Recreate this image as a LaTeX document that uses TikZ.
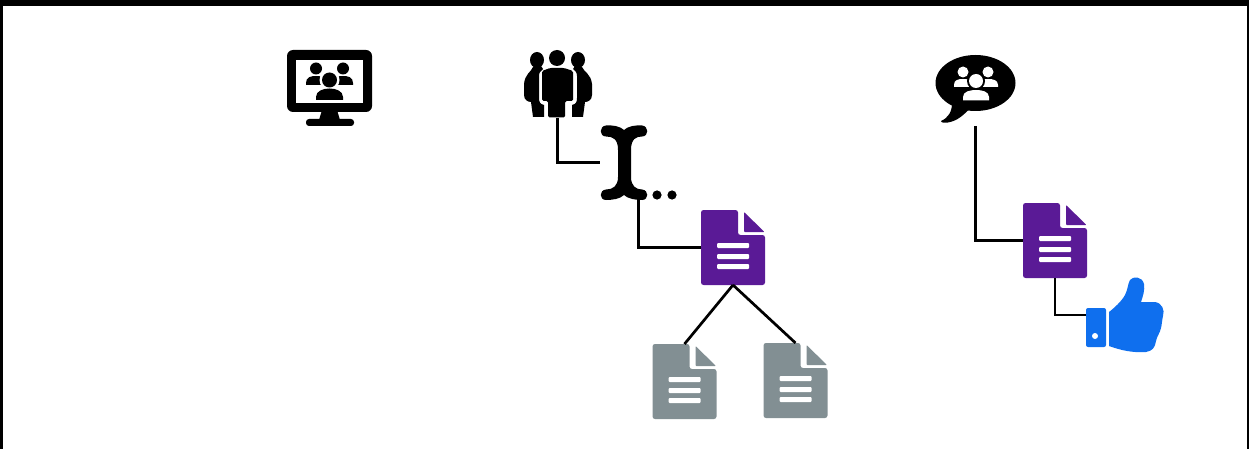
\documentclass[tikz,border=0pt]{standalone}
\definecolor{docpurple}{HTML}{5A1A96}
\definecolor{docgrey}{HTML}{828F93}
\definecolor{thumbblue}{HTML}{0F6FEE}
\tikzset{
  link/.style={draw=black,line width=2.7pt},
  frameline/.style={draw=black,line width=6pt},
}
% top-left corner given by #1,#2; colour #3; node name #4
\newcommand{\docicon}[4]{%
  \begin{scope}[shift={(#1,#2)}]
    \fill[#3,rounded corners=2.5pt] (0,0) -- (37,0) -- (37,25) -- (64,25) -- (64,75) -- (0,75) -- cycle;
    \fill[#3,rounded corners=0.8pt] (43,2) -- (63.5,22) -- (43,22) -- cycle;
    \fill[white,rounded corners=1pt] (16,33) rectangle (48,38);
    \fill[white,rounded corners=1pt] (16,44) rectangle (48,49);
    \fill[white,rounded corners=1pt] (16,54) rectangle (48,59);
    \node[inner sep=0pt,outer sep=0pt,minimum width=64pt,minimum height=75pt] (#4) at (32,37.5) {};
  \end{scope}}
\begin{document}
\begin{tikzpicture}[x=1pt,y=-1pt]
\useasboundingbox (0,0) rectangle (1249,449);
\begin{scope}
\clip (0,0) rectangle (1249,449);
\draw[frameline] (0,3) rectangle (1250,470);
\end{scope}
% monitor
\fill[black,rounded corners=6pt] (287,50) rectangle (372,112);
\fill[white] (296,60) rectangle (363,103);
\fill[black] (322,110) -- (337,110) -- (340,120) -- (319,120) -- cycle;
\fill[black,rounded corners=3pt] (306,119) rectangle (354,126);
\fill (316,68.5) circle (6);
\fill (343,68.5) circle (6);
\fill (306,85) -- (306,83) .. controls (306,77) and (311,76) .. (316,76) .. controls (321,76) and (326,77) .. (326,83) -- (326,85) -- cycle;
\fill (333,85) -- (333,83) .. controls (333,77) and (338,76) .. (343,76) .. controls (348,76) and (353,77) .. (353,83) -- (353,85) -- cycle;
\fill[white] (329.5,80) circle (10);
\fill[white] (313,100) .. controls (313,84) and (346,84) .. (346,100) -- cycle;
\fill (329.5,80) circle (7.5);
\fill (316,100) -- (316,97) .. controls (316,91) and (323,88.5) .. (329.5,88.5) .. controls (336,88.5) and (343,91) .. (343,97) -- (343,100) -- cycle;
\node[inner sep=0pt,outer sep=0pt,minimum width=85pt,minimum height=76pt] (monitor) at (329.5,88) {};
% people
\fill (557,58) circle (8);
\fill[rounded corners=1.5pt] (550,68) -- (564,68) -- (573,71) -- (573,101) -- (565,101) -- (565,117.5) -- (548,117.5) -- (548,101) -- (542,101) -- (542,71) -- cycle;
\fill (537,60) ellipse (7 and 8);
\fill (578,60) ellipse (7 and 8);
\fill (533,67) .. controls (531,72) and (525,74) .. (524,84) -- (524,95) .. controls (524,100) and (528,102) .. (531,102) -- (533,117) -- (544,117) -- (544,105) .. controls (540,104) and (539,102) .. (539,98) -- (539,76) .. controls (539,72) and (541,71) .. (543,69) -- (541,66) -- cycle;
\fill (582,67) .. controls (584,72) and (591,74) .. (592,84) -- (592,95) .. controls (592,100) and (588,102) .. (585,102) -- (583,117) -- (572,117) -- (572,105) .. controls (576,104) and (577,102) .. (577,98) -- (577,76) .. controls (577,72) and (575,71) .. (573,69) -- (575,66) -- cycle;
\node[inner sep=0pt,outer sep=0pt,minimum width=68pt,minimum height=68pt] (people) at (557.5,84) {};
% i-beam cursor with dots
\fill (606,125.5) .. controls (612,125) and (620,126) .. (624,130) .. controls (628,126) and (636,125) .. (642,125.5)
  .. controls (649,126) and (649,136.5) .. (642,136.5) .. controls (636,136.5) and (631,139) .. (631,150)
  -- (631,177) .. controls (631,186) and (636,189.5) .. (642,189.5)
  .. controls (649,190) and (649,200) .. (642,200) .. controls (636,200) and (628,199) .. (624,195)
  .. controls (620,199) and (612,200) .. (606,200) .. controls (599,200) and (599,190) .. (606,189.5)
  .. controls (613,189.5) and (618,186) .. (618,177) -- (618,150) .. controls (618,139) and (613,136.5) .. (606,136.5)
  .. controls (599,136.5) and (599,126) .. (606,125.5) -- cycle;
\fill (657,195) circle (4.6);
\fill (672,195) circle (4.6);
\node[inner sep=0pt,outer sep=0pt,minimum width=77pt,minimum height=75pt] (cursor) at (638.5,162.5) {};
% speech bubble
\fill (975.5,83) ellipse (40 and 28);
\fill (952,103) .. controls (952,112) and (948,118) .. (941,121) .. controls (941,123) and (945,123) .. (948,122.5) .. controls (957,121) and (964,115) .. (970,108) -- cycle;
\fill[white] (963,72) circle (5.5);
\fill[white] (988,72) circle (5.5);
\fill[white] (954,87) -- (954,85) .. controls (954,80) and (958,79) .. (963,79) .. controls (968,79) and (972,80) .. (972,85) -- (972,87) -- cycle;
\fill[white] (979,87) -- (979,85) .. controls (979,80) and (983,79) .. (988,79) .. controls (993,79) and (998,80) .. (998,85) -- (998,87) -- cycle;
\fill[black] (976,81) circle (9);
\fill[black] (960,100) .. controls (960,85) and (992,85) .. (992,100) -- cycle;
\fill[white] (976,81) circle (7);
\fill[white] (963,100.5) -- (963,97) .. controls (963,91.5) and (970,90) .. (976,90) .. controls (982,90) and (989,91.5) .. (989,97) -- (989,100.5) -- cycle;
\node[inner sep=0pt,outer sep=0pt,minimum width=82pt,minimum height=72pt] (speech) at (975.5,90) {};
% documents
\docicon{701}{210}{docpurple}{docA}
\docicon{652.5}{344}{docgrey}{docB}
\docicon{763.5}{343}{docgrey}{docC}
\docicon{1023}{203}{docpurple}{docD}
% thumb
\fill[thumbblue,rounded corners=2pt] (1086,308) rectangle (1106,347);
\fill[white] (1095,336) circle (3);
\fill[thumbblue] (1109,312) .. controls (1114,308) and (1121,302) .. (1125,295) .. controls (1128,289) and (1128,283) .. (1130,280)
 .. controls (1133,276) and (1142,276) .. (1144,284) .. controls (1145,290) and (1143,296) .. (1141,302)
 -- (1155,302) .. controls (1162,303) and (1165,310) .. (1163,316) .. controls (1162,320) and (1162,324) .. (1161,328)
 .. controls (1160,333) and (1157,336) .. (1156,341) .. controls (1155,348) and (1152,351) .. (1146,352)
 .. controls (1132,353) and (1120,350) .. (1109,346) -- cycle;
\node[inner sep=0pt,outer sep=0pt,minimum width=78pt,minimum height=74pt] (thumb) at (1125,315) {};
% connectors
\draw[link] (people.south) |- (cursor.west);
\draw[link] (cursor.south) |- (docA.west);
\draw[link] (docA.south) -- (docB.north);
\draw[link] (docA.south) -- (docC.north);
\draw[link] (speech.south) |- (docD.west);
\draw[link] (docD.south) |- (thumb.west);
\end{tikzpicture}
\end{document}
